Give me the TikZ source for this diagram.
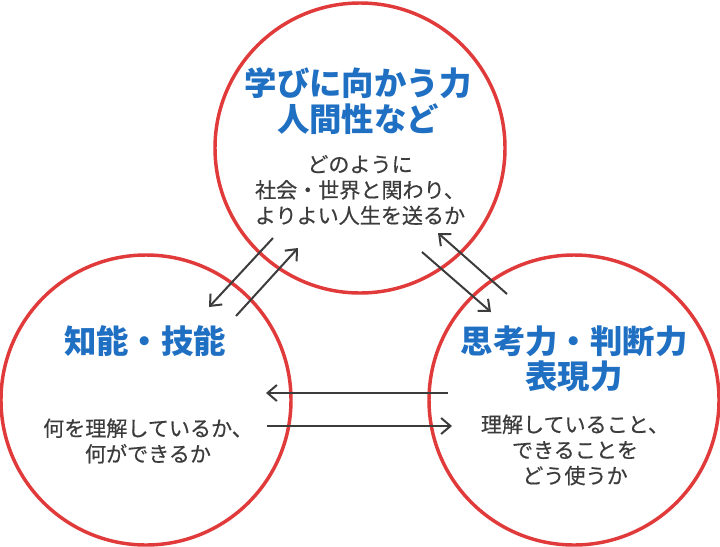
\documentclass[tikz,border=0pt]{standalone}
\usepackage{fontspec}
\newfontfamily\cjk{Noto Sans CJK JP}
\newfontfamily\cjkbody[FakeBold=0.5]{Noto Sans CJK JP}
\usetikzlibrary{arrows.meta}

\definecolor{ringred}{HTML}{E03A3A}
\definecolor{titleblue}{HTML}{1F6FC2}
\definecolor{bodygray}{HTML}{3C3C3C}

\tikzset{
  ring/.style={circle, draw=ringred, line width=2.6pt, minimum size=217.5pt, inner sep=0pt},
  title/.style={text=titleblue, align=center, font=\cjk\bfseries\fontsize{24.3}{26.5}\selectfont},
  body/.style={text=bodygray, align=center, font=\cjkbody\fontsize{15.8}{19.2}\selectfont},
  arr/.style={draw=bodygray, line width=1.5pt, -{Straight Barb[length=7pt,width=12pt,line width=1.5pt]}}
}

\begin{document}
\begin{tikzpicture}[x=0.75pt,y=-0.75pt]
\useasboundingbox (0,0) rectangle (720,546);
% three rings
\node[ring] (gakubi) at (360,148) {};
\node[ring] (chino) at (146,400) {};
\node[ring] (shiko) at (574,400) {};
% texts
\node[title] (gakubiT) at (358,101) {学びに向かう力\\人間性など};
\node[body] (gakubiB) at (360,190) {どのように\\社会・世界と関わり、\\よりよい人生を送るか};
\node[title] (chinoT) at (145,341) {知能・技能};
\node[body] (chinoB) at (148,441) {何を理解しているか、\\何ができるか};
\node[title] (shikoT) at (574,359) {思考力・判断力\\表現力};
\node[body] (shikoB) at (575,450) {理解していること、\\できることを\\どう使うか};
% arrow ends
\coordinate (a1) at (273,238); \coordinate (b1) at (209,307);
\coordinate (a2) at (236,316); \coordinate (b2) at (298,248);
\coordinate (a3) at (422,252); \coordinate (b3) at (491,312);
\coordinate (a4) at (507,294); \coordinate (b4) at (438,233);
\coordinate (a5) at (448,393); \coordinate (b5) at (266,393);
\coordinate (a6) at (267,426); \coordinate (b6) at (452,426);
\foreach \i in {1,...,6}
{
\draw[arr] (a\i) -- (b\i);
}
\end{tikzpicture}
\end{document}
